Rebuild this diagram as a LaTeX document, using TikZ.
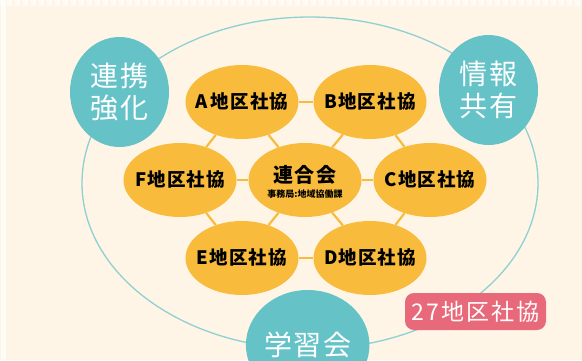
\documentclass[tikz,border=0pt]{standalone}
\usepackage{fontspec}
\newfontfamily\jp{Noto Sans CJK JP}
\newfontfamily\jpsp[LetterSpace=6]{Noto Sans CJK JP}
\newfontfamily\jpwide[LetterSpace=9]{Noto Sans CJK JP}
\usetikzlibrary{shapes.geometric}
\definecolor{bgcream}{HTML}{FEF5E6}
\definecolor{orng}{HTML}{F8BB3C}
\definecolor{teal1}{HTML}{65C3C8}
\definecolor{teal2}{HTML}{8FD0D3}
\definecolor{pinkr}{HTML}{E8697A}
\tikzset{
  district/.style={ellipse, fill=orng, minimum width=113pt, minimum height=74pt, inner sep=0pt,
     label={[font=\jpsp\bfseries\fontsize{18.5}{20}\selectfont, text=black, inner sep=0pt]center:#1}},
  bigcirc/.style={ellipse, fill=teal1, minimum width=99pt, minimum height=110pt, inner sep=0pt, text=white, align=center, font=\jpsp\fontsize{28}{32}\selectfont},
  link/.style={draw=orng, line width=2.2pt},
}
\begin{document}
\begin{tikzpicture}[x=1pt,y=-1pt]
\useasboundingbox (0,0) rectangle (582,360);
\fill[bgcream] (0,0) rectangle (582,360);
% top and left light strips
\fill[white,opacity=0.6] (0,0) rectangle (582,6);
\foreach \i in {0,...,72} {\fill[bgcream] (\i*8+4,0) rectangle (\i*8+7,6);}
\fill[white,opacity=0.7] (1,0) rectangle (6,360);
% outer ellipse
\draw[teal2, line width=1.3pt] (310,183) ellipse [x radius=228, y radius=166];
% nodes
\node[district={A\,地区社協}] (A) at (242,102) {};
\node[district={B地区社協}] (B) at (370,102) {};
\node[district={F地区社協}] (F) at (180,180) {};
\node[district={}] (M) at (305,180) {};
\node[district={C地区社協}] (C) at (430,180) {};
\node[district={E地区社協}] (E) at (242,258) {};
\node[district={D地区社協}] (D) at (370,258) {};
% connectors
\draw[link] (A) -- (B);
\draw[link] (A) -- (F);
\draw[link] (A) -- (M);
\draw[link] (B) -- (M);
\draw[link] (B) -- (C);
\draw[link] (F) -- (M);
\draw[link] (M) -- (C);
\draw[link] (F) -- (E);
\draw[link] (E) -- (M);
\draw[link] (M) -- (D);
\draw[link] (C) -- (D);
\draw[link] (E) -- (D);
\node (Mt) at (305,175) {\jpsp\bfseries\fontsize{20}{22}\selectfont 連合会};
\node (Ms) at (305,194) {\jp\bfseries\fontsize{9}{10}\selectfont 事務局:地域協働課};
\node[bigcirc] (K1) at (119.5,92) {連携\\強化};
\node[bigcirc] (K2) at (488.5,90) {情報\\共有};
\node[bigcirc] (K3) at (307.7,345) {学習会};
\node[fill=pinkr, rounded corners=9pt, minimum width=141pt, minimum height=37pt, inner sep=0pt, text=white, font=\jpwide\fontsize{23}{25}\selectfont] (P) at (475.5,311.5) {27地区社協};
\end{tikzpicture}
\end{document}
